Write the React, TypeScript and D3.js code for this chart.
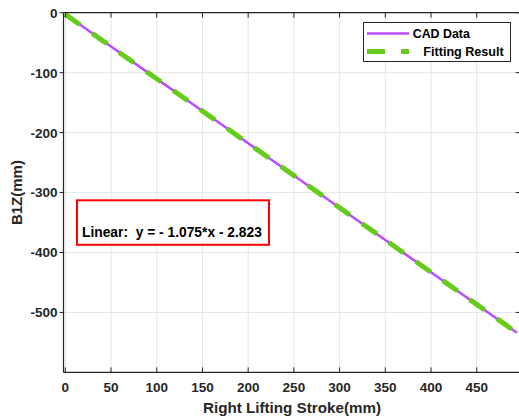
import React from "react";
import * as d3 from "d3";

const cadX = [0, 50, 100, 150, 200, 250, 300, 350, 400, 450, 494];
const cadY = [-2.5, -56.5, -110.4, -164.1, -217.9, -271.6, -325.5, -379.1, -433.0, -486.6, -534.0];
const fitSlope = -1.075;
const fitIntercept = -2.823;
const fitRange = [0, 500];
const xTicks = [0, 50, 100, 150, 200, 250, 300, 350, 400, 450];
const yTicks = [0, -100, -200, -300, -400, -500];
const xLabel = "Right Lifting Stroke(mm)";
const yLabel = "B1Z(mm)";
const legendLabels = ["CAD Data", "Fitting Result"];
const equationText = "Linear:  y = - 1.075*x - 2.823";

const W = 519;
const H = 419;
const PURPLE = "#b84dff";
const GREEN = "#66cc1a";
const FONT = "'Liberation Sans', Arial, sans-serif";

export default function App() {
  const x = d3.scaleLinear().domain([-2, 498]).range([63.5, 520.6]);
  const y = d3.scaleLinear().domain([-600, 0]).range([372.4, 12.7]);
  const line = d3
    .line<[number, number]>()
    .x((d) => x(d[0]))
    .y((d) => y(d[1]));
  const cadPts: [number, number][] = cadX.map((v, i) => [v, cadY[i]]);
  const fitPts: [number, number][] = fitRange.map((v) => [v, fitSlope * v + fitIntercept]);
  const [x0, x1] = x.range();
  const [yb, yt] = y.range();

  return (
    <svg
      width={W}
      height={H}
      style={{ position: "absolute", left: 0, top: 0, background: "#fff" }}
      fontFamily={FONT}
    >
      <defs>
        <clipPath id="plotclip">
          <rect x={x0} y={yt} width={x1 - x0} height={yb - yt} />
        </clipPath>
      </defs>
      <rect x={0} y={0} width={W} height={H} fill="#fff" />
      {/* grid */}
      {xTicks.map((t) => (
        <line key={"gx" + t} x1={x(t)} x2={x(t)} y1={yt} y2={yb} stroke="#e6e6e6" strokeWidth={1} />
      ))}
      {yTicks.map((t) => (
        <line key={"gy" + t} x1={x0} x2={x1} y1={y(t)} y2={y(t)} stroke="#e6e6e6" strokeWidth={1} />
      ))}
      {/* data */}
      <g clipPath="url(#plotclip)">
        <path d={line(cadPts) || ""} fill="none" stroke={PURPLE} strokeWidth={2.5} />
        <path
          d={line(fitPts) || ""}
          fill="none"
          stroke={GREEN}
          strokeWidth={5}
          strokeDasharray="18 15"
        />
      </g>
      {/* axes box */}
      <line x1={x0} x2={x0} y1={yt} y2={yb} stroke="#262626" strokeWidth={1.2} />
      <line x1={x0} x2={x1} y1={yb} y2={yb} stroke="#262626" strokeWidth={1.2} />
      <line x1={x0} x2={x1} y1={yt} y2={yt} stroke="#262626" strokeWidth={1.2} />
      <line x1={x1} x2={x1} y1={yt} y2={yb} stroke="#262626" strokeWidth={1.2} />
      {/* x ticks */}
      {xTicks.map((t) => (
        <g key={"xt" + t}>
          <line x1={x(t)} x2={x(t)} y1={yb} y2={yb - 5} stroke="#262626" strokeWidth={1} />
          <line x1={x(t)} x2={x(t)} y1={yt} y2={yt + 5} stroke="#262626" strokeWidth={1} />
          <text
            x={x(t)}
            y={392}
            textAnchor="middle"
            fontSize={13.5}
            fontWeight="bold"
            fill="#262626"
          >
            {t}
          </text>
        </g>
      ))}
      {/* y ticks */}
      {yTicks.map((t) => (
        <g key={"yt" + t}>
          <line x1={x0} x2={x0 - 4} y1={y(t)} y2={y(t)} stroke="#262626" strokeWidth={1} />
          <line x1={x1} x2={x1 - 5} y1={y(t)} y2={y(t)} stroke="#262626" strokeWidth={1} />
          <text
            x={57.5}
            y={y(t) + 4.9}
            textAnchor="end"
            fontSize={13.5}
            fontWeight="bold"
            fill="#262626"
          >
            {t}
          </text>
        </g>
      ))}
      {/* axis labels */}
      <text
        x={292}
        y={412.5}
        textAnchor="middle"
        fontSize={15.2}
        fontWeight="bold"
        fill="#262626"
      >
        {xLabel}
      </text>
      <text
        transform={`translate(21.5,${(yt + yb) / 2}) rotate(-90)`}
        textAnchor="middle"
        fontSize={15}
        fontWeight="bold"
        fill="#262626"
      >
        {yLabel}
      </text>
      {/* legend */}
      <rect x={363.5} y={22.5} width={147} height={39} fill="#fff" stroke="#262626" strokeWidth={1} />
      <line x1={367} x2={409} y1={33.5} y2={33.5} stroke={PURPLE} strokeWidth={2.5} />
      <text x={412.7} y={38.3} fontSize={12.4} fontWeight="bold" fill="#000">
        {legendLabels[0]}
      </text>
      <line
        x1={367}
        x2={409}
        y1={51.5}
        y2={51.5}
        stroke={GREEN}
        strokeWidth={5}
        strokeDasharray="18 16"
      />
      <text x={423.3} y={56} fontSize={12.6} fontWeight="bold" fill="#000">
        {legendLabels[1]}
      </text>
      {/* equation box */}
      <rect x={77} y={200.3} width={192} height={44.5} fill="#fff" stroke="#ff0000" strokeWidth={2} />
      <text
        x={82}
        y={236.7}
        fontSize={13.8}
        fontWeight="bold"
        fill="#000"
        style={{ whiteSpace: "pre" }}
      >
        {equationText}
      </text>
    </svg>
  );
}
